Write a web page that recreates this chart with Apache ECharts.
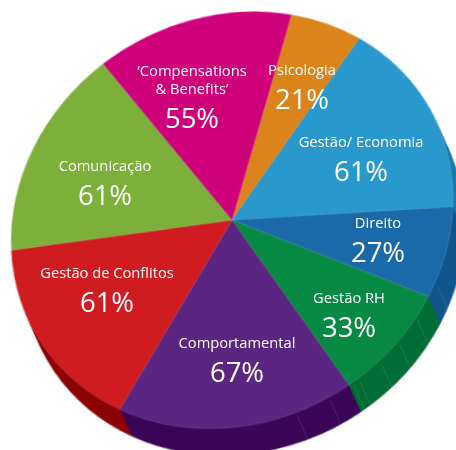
<!DOCTYPE html>
<html>
<head>
<meta charset="utf-8">
<title>Áreas de formação</title>
<script src="https://cdn.jsdelivr.net/npm/echarts@6/dist/echarts.min.js"></script>
<style>
  html, body { margin: 0; padding: 0; background: #fff; overflow: hidden; }
  #stage { position: relative; width: 456px; height: 450px; overflow: hidden; }
  /* The disc is seen in perspective: its layer is squeezed along a slanted axis around the hub */
  #disc { position: absolute; left: -118px; top: -130px; width: 700px; height: 700px;
          transform-origin: 350px 350px; transform: rotate(-30deg) scaleY(0.89) rotate(30deg); }
  #text { position: absolute; left: 0; top: 0; width: 456px; height: 450px; }
</style>
</head>
<body>
<div id="stage"><div id="disc"></div><div id="text"></div></div>
<script>
const categories = ['Psicologia', 'Gestão/ Economia', 'Direito', 'Gestão RH', 'Comportamental', 'Gestão de Conflitos', 'Comunicação', '‘Compensations\n& Benefits’'];
const percentValues = [21, 61, 27, 33, 67, 61, 61, 55];
const faceColors = ['#DB841C', '#2998CC', '#1A69A9', '#068A43', '#5A2682', '#D01B20', '#7DB03A', '#CE007A'];
const wallColors = ['#A8620F', '#1B7BA8', '#12568F', '#026D35', '#3C0758', '#8C0404', '#5C8A28', '#9A005B'];
const labelCentres = [[302, 92], [361, 164], [378, 245], [349, 320], [237, 365], [107, 295], [105, 188], [192, 102]];
const wallRimPoints = [[297, 415], [330, 400], [354, 386], [360, 382], [382, 365], [400, 345], [417, 319], [437, 285]];

const squeeze = 0.89;
const squeezeAxis = 30 * Math.PI / 180;
const radius = 227;
const hub = 350;
const startAngle = 90 - 12.8;
const wallDepthX = 12;
const wallDepthY = 27;

// Undo the layer's slanted squeeze so the wall ends up at its on-screen depth
const cosA = Math.cos(squeezeAxis);
const sinA = Math.sin(squeezeAxis);
const alongU = wallDepthX * cosA + wallDepthY * -sinA;
const alongV = (wallDepthX * sinA + wallDepthY * cosA) / squeeze;
const layerDepthX = alongU * cosA + alongV * sinA;
const layerDepthY = -alongU * sinA + alongV * cosA;

const toData = (colors) => categories.map((name, i) => ({
  name, value: percentValues[i], itemStyle: { color: colors[i] }
}));

const pieBase = {
  type: 'pie',
  radius: [0, radius],
  startAngle,
  clockwise: true,
  silent: true,
  animation: false,
  label: { show: false },
  labelLine: { show: false },
  emphasis: { disabled: true }
};

// Wall of the disc: the same slices repeated, each layer nudged further along the extrusion
const wallSteps = 34;
const series = [];
for (let s = wallSteps; s >= 1; s--) {
  series.push({
    ...pieBase,
    center: [hub + layerDepthX * s / wallSteps, hub + layerDepthY * s / wallSteps],
    data: toData(wallColors)
  });
}
// Top face
series.push({
  ...pieBase,
  center: [hub, hub],
  itemStyle: { borderColor: 'rgba(255,255,255,0.28)', borderWidth: 0.5 },
  data: toData(faceColors)
});

const disc = echarts.init(document.getElementById('disc'), null, { renderer: 'canvas' });
disc.setOption({ animation: false, series });

// Slice names and percentages, plus the fine ribs scored into the wall
const text = echarts.init(document.getElementById('text'), null, { renderer: 'canvas' });
text.setOption({
  animation: false,
  graphic: wallRimPoints.map(([x, y]) => ({
    type: 'line',
    silent: true,
    shape: { x1: x, y1: y, x2: x + wallDepthX, y2: y + wallDepthY },
    style: { stroke: 'rgba(255,255,255,0.18)', lineWidth: 0.6 }
  })),
  series: [{
    ...pieBase,
    center: [232, 220],
    radius: [0, 210],
    itemStyle: { color: 'transparent' },
    data: categories.map((name, i) => ({ name, value: percentValues[i] })),
    label: {
      show: true,
      position: 'inside',
      formatter: (p) => p.name.split('\n').map((line) => `{n|${line}}`).join('\n') + `\n{v|${p.value}%}`,
      rich: {
        n: { fontFamily: 'Open Sans', fontSize: 14.7, lineHeight: 18, color: '#fff', align: 'center' },
        v: { fontFamily: 'Open Sans', fontSize: 27.5, lineHeight: 42, color: '#fff', align: 'center' }
      }
    },
    labelLayout: (p) => ({
      x: labelCentres[p.dataIndex][0],
      y: labelCentres[p.dataIndex][1],
      align: 'center',
      verticalAlign: 'middle'
    })
  }]
});
</script>
</body>
</html>
